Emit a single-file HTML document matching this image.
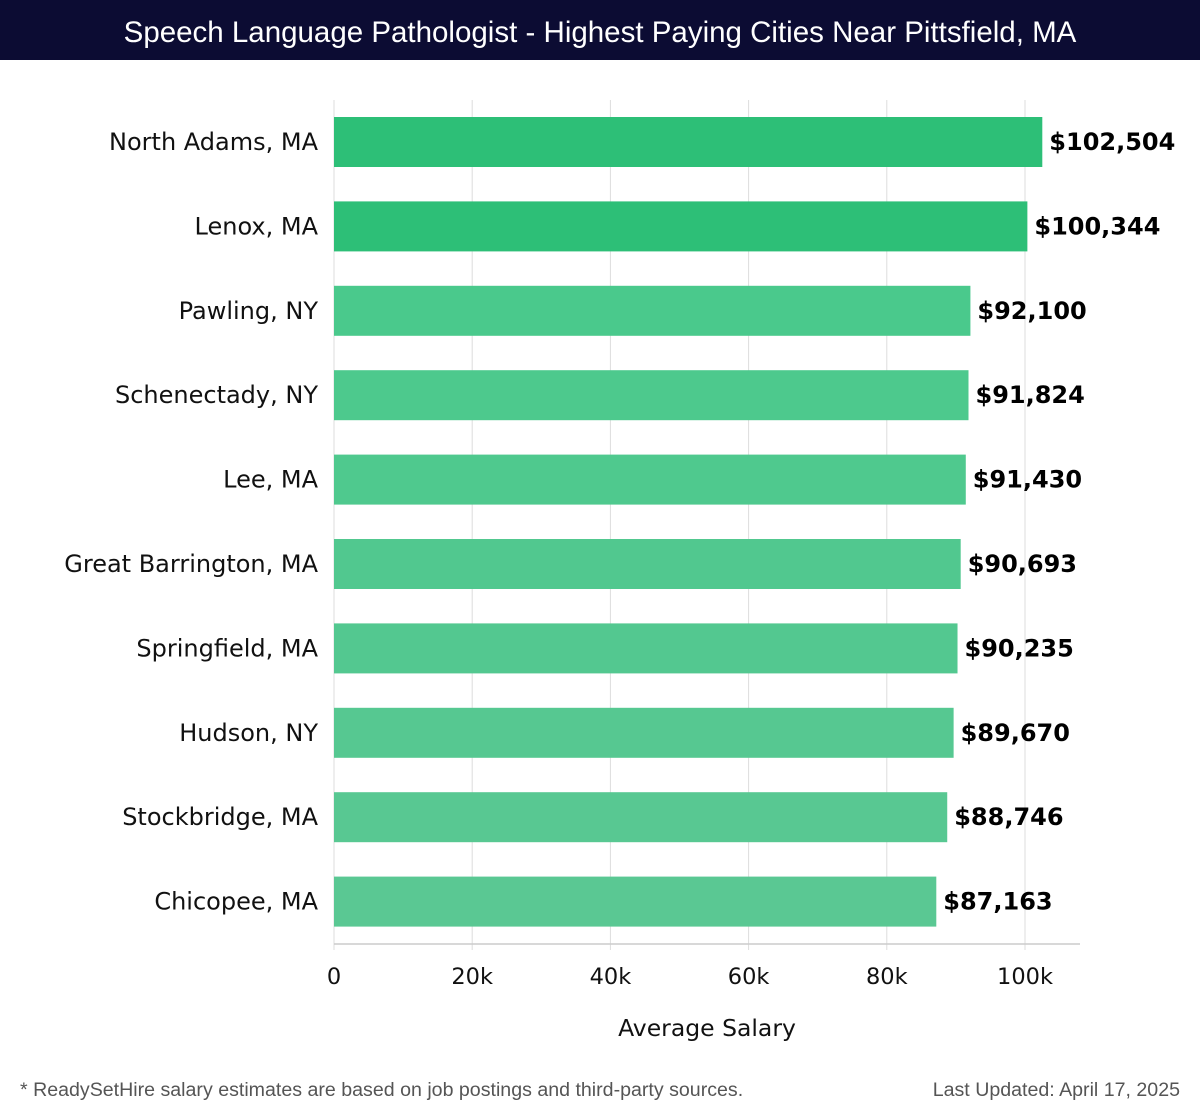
<!DOCTYPE html>
<html><head><meta charset="utf-8"><style>
body{margin:0;background:#fff;width:1200px;height:1120px;overflow:hidden;font-family:"DejaVu Sans","Liberation Sans",sans-serif}
#title{position:absolute;left:0;top:0;width:1200px;height:60px;background:#0c0c33;color:#fff;font-size:29.5px;line-height:66px;text-align:center;font-family:"Liberation Sans",sans-serif}
.foot{position:absolute;top:1079px;font-size:19.6px;color:#555;font-family:"Liberation Sans",sans-serif}
</style></head><body>
<div id="title">Speech Language Pathologist - Highest Paying Cities Near Pittsfield, MA</div>
<svg id="chart" width="1200" height="1120" style="position:absolute;left:0;top:0"></svg>
<div class="foot" style="left:20px">* ReadySetHire salary estimates are based on job postings and third-party sources.</div>
<div class="foot" style="right:20px">Last Updated: April 17, 2025</div>
<script>
const cities=["North Adams, MA","Lenox, MA","Pawling, NY","Schenectady, NY","Lee, MA","Great Barrington, MA","Springfield, MA","Hudson, NY","Stockbridge, MA","Chicopee, MA"];
const salaries=[102504,100344,92100,91824,91430,90693,90235,89670,88746,87163];
const ticks=[0,20000,40000,60000,80000,100000];
const tickLabels=["0","20k","40k","60k","80k","100k"];
const svg=document.getElementById('chart');const NS="http://www.w3.org/2000/svg";
const x0=334,pxPer=691/100000,top0=100,bottom=944,step=84.4,barH=50;
const xs=v=>x0+v*pxPer;
function mk(t,a,p){const e=document.createElementNS(NS,t);for(const k in a)e.setAttribute(k,a[k]);(p||svg).appendChild(e);return e;}
ticks.forEach((t,i)=>{
 const g=mk('line',{x1:xs(t),x2:xs(t),y1:top0,y2:bottom+6,stroke:'#ddd','stroke-width':1});
 
 
 const l=mk('text',{x:xs(t),y:984,'font-size':22.5,'text-anchor':'middle',fill:'#111'});
 l.textContent=tickLabels[i];
 
 
});
const ax=mk('line',{x1:x0,x2:1080,y1:bottom,y2:bottom,stroke:'#ccc','stroke-width':1.5});


cities.forEach((c,i)=>{
 const y=117+i*step;
 const col=i<2?'#2dbf77':`hsl(151,${54-(i-2)*0.6}%,${54+(i-2)*0.4}%)`;
 const r=mk('rect',{x:x0,y:y,width:xs(salaries[i])-x0,height:barH,fill:col});
 
 
 const lab=mk('text',{x:318,y:y+33,'font-size':24,'text-anchor':'end',fill:'#111'});
 lab.textContent=c;
 
 
 const v=mk('text',{x:xs(salaries[i])+7,y:y+33,'font-size':24,'font-weight':'bold',fill:'#000'});
 v.textContent='$'+salaries[i].toLocaleString('en-US');
 
 
});
const xt=mk('text',{x:707,y:1036,'font-size':23.5,'text-anchor':'middle',fill:'#111'});
xt.textContent='Average Salary';


</script>
</body></html>
